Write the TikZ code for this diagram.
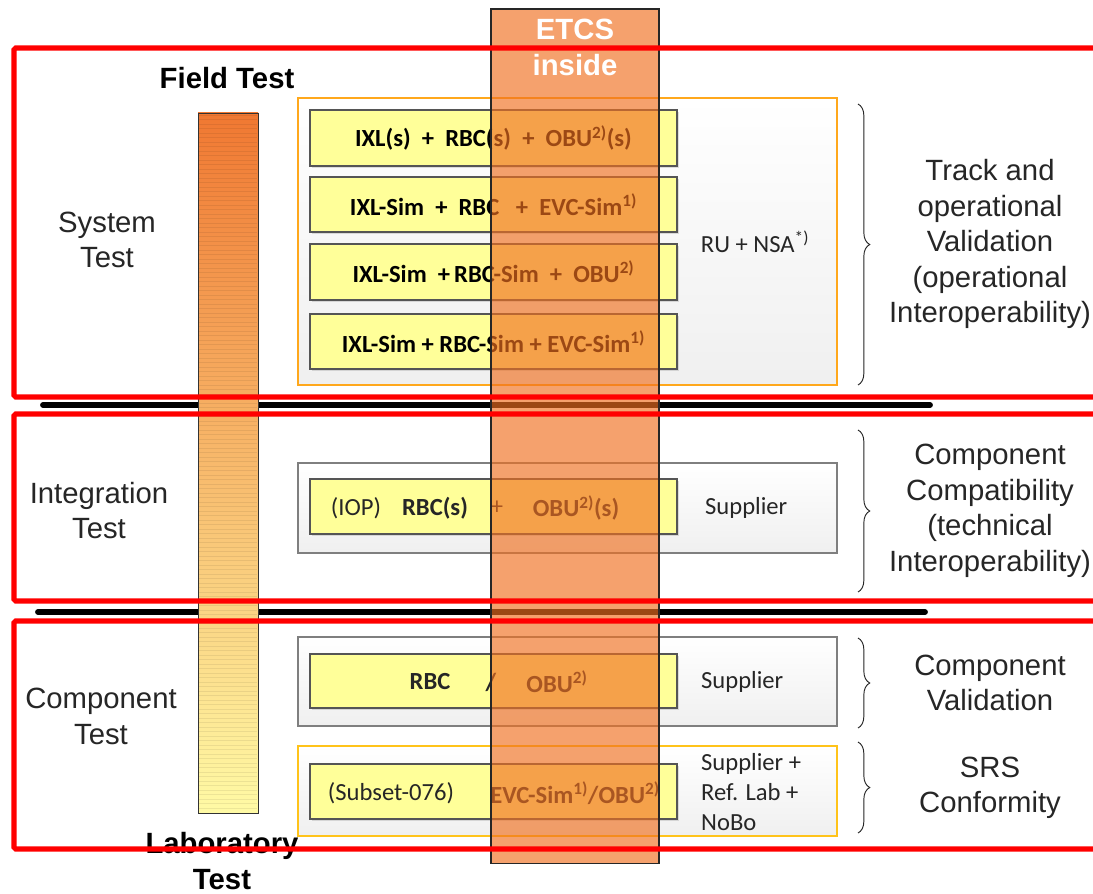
\documentclass[tikz,border=0pt]{standalone}
\usepackage{fontspec}
\setmainfont{Liberation Sans}
\newfontfamily\cellfont{Carlito}
\usepackage{tikz}
\usetikzlibrary{decorations.pathreplacing,shadows}
\definecolor{railRed}{HTML}{FF0000}
\definecolor{ink}{HTML}{262626}
\definecolor{cellYellow}{HTML}{FFFF99}
\definecolor{cellEdge}{HTML}{555555}
\definecolor{frameGray}{HTML}{7F7F7F}
\definecolor{frameOrange}{HTML}{FFA81C}
\definecolor{frameGold}{HTML}{FFC31A}
\definecolor{etcsOrange}{HTML}{F07020}
\definecolor{barTop}{HTML}{F07832}
\definecolor{barMid}{HTML}{F9D690}
\definecolor{barLow}{HTML}{FFFAA5}

\begin{document}
\begin{tikzpicture}[x=0.03cm,y=-0.03cm,
  lbl/.style={font=\fontsize{25}{30.3}\selectfont,text=ink,align=center},
  head/.style={font=\fontsize{25}{30.3}\selectfont\bfseries,align=center},
  grp/.style={draw=frameGray,line width=1.2pt,top color=white,bottom color=gray!12,
    minimum width=16.17cm,minimum height=2.7cm,inner sep=0pt},
  cell/.style={draw=cellEdge,line width=1.1pt,fill=cellYellow,minimum width=11.01cm,
    minimum height=1.65cm,inner sep=0pt,
    drop shadow={shadow xshift=1.5pt,shadow yshift=-1.5pt,opacity=0.25},
    font=\cellfont\fontsize{21}{24}\selectfont\bfseries},
  txt/.style={font=\cellfont\fontsize{21}{24}\selectfont,text=ink},
  bold/.style={txt,font=\cellfont\fontsize{21}{24}\selectfont\bfseries},
  stripe/.style={black,opacity=0.07,line width=0.5pt},
  frame/.style={draw=railRed,line width=4.3pt,rounded corners=1.5pt},
  sep/.style={line width=5pt,line cap=round},
  brc/.style={decorate,decoration={brace,amplitude=10pt},draw=ink,line width=0.8pt}]
  \useasboundingbox[fill=white] (0,0) rectangle (1093,893);

  % group boxes
  \node[grp,draw=frameOrange,line width=1.7pt,minimum height=8.61cm] (grpSys) at (567.5,241.5) {};
  \node[grp] (grpIop) at (567.5,508) {};
  \node[grp,minimum height=2.67cm] (grpComp) at (567.5,681.5) {};
  \node[grp,draw=frameGold,line width=2pt] (grpSrs) at (567.5,791) {};

  % test set-ups
  \node[cell,minimum height=1.68cm] (sys1) at (493.5,138)
    {IXL(s)~~+~~RBC(s)~~+~~OBU\textsuperscript{2)}(s)};
  \node[cell] (sys2) at (493.5,204.5) {IXL-Sim~~+~~RBC~~~+~~EVC-Sim\textsuperscript{1)}};
  \node[cell,minimum height=1.68cm] (sys3) at (493.5,272) {IXL-Sim~~+\,RBC-Sim~~+~~OBU\textsuperscript{2)}};
  \node[cell] (sys4) at (493.5,341.5) {IXL-Sim + RBC-Sim + EVC-Sim\textsuperscript{1)}};
  \node[cell] (iop) at (493.5,506.5) {};
  \node[cell,minimum height=1.62cm] (comp) at (493.5,681) {};
  \node[cell] (srs) at (493.5,791.5) {};

  \node[txt] (iopTag) at (356,508) {(IOP)};
  \node[bold] (iopRbc) at (435,508) {RBC(s)};
  \node[txt] (iopPlus) at (497,508) {+};
  \node[bold] (iopObu) at (576,508) {OBU\textsuperscript{2)}(s)};
  \node[bold] (compRbc) at (430,682) {RBC};
  \node[bold] (compSlash) at (491,682) {/};
  \node[bold] (compObu) at (557,682) {OBU\textsuperscript{2)}};
  \node[txt] (srsTag) at (391,793) {(Subset-076)};
  \node[bold] (srsSim) at (575,793) {EVC-Sim\textsuperscript{1)}/OBU\textsuperscript{2)}};

  % who tests
  \node[txt] (whoSys) at (755,242) {RU + NSA\textsuperscript{*)}};
  \node[txt,anchor=west] (whoIop) at (701,508) {Supplier};
  \node[txt,anchor=west] (whoComp) at (697,682) {Supplier};
  \node[txt,anchor=west,align=left,font=\cellfont\fontsize{21}{25.6}\selectfont] (whoSrs) at (697,792)
    {Supplier +\\Ref. Lab +\\NoBo};

  % level separators
  \draw[sep] (43,405) -- (930,405);
  \draw[sep] (38,612) -- (925,612);

  % field to laboratory bar
  \node[draw=black!80,line width=0.8pt,top color=barTop,middle color=barMid,bottom color=barLow,
    minimum width=1.8cm,minimum height=21cm,inner sep=0pt] (ladder) at (228,463) {};
  \foreach \k in {0,...,154}
    \draw[stripe] (199,{115+4.5*\k}) -- (257,{115+4.5*\k});
  \node[head] (field) at (227,78) {Field Test};
  \node[head,inner sep=0pt] (lab) at (222,861) {Laboratory\\Test};

  % test levels
  \node[lbl] (lvlSys) at (107,240) {System\\Test};
  \node[lbl] (lvlIop) at (99,510.5) {Integration\\Test};
  \node[lbl] (lvlComp) at (101,716.5) {Component\\Test};

  % aims
  \draw[brc] (858,104) -- (858,385);
  \draw[brc] (858,430) -- (858,592);
  \draw[brc] (858,638) -- (858,728);
  \draw[brc] (858,742) -- (858,833);
  \node[lbl] (aimSys) at (990,244)
    {Track and\\operational\\Validation\\(operational\\Interoperability)};
  \node[lbl] (aimIop) at (990,511) {Component\\Compatibility\\(technical\\Interoperability)};
  \node[lbl] (aimComp) at (990,683) {Component\\Validation};
  \node[lbl] (aimSrs) at (990,788) {SRS\\Conformity};

  % ETCS column
  \node[draw=black!85,line width=0.9pt,fill=etcsOrange,fill opacity=0.65,
    minimum width=5.04cm,minimum height=25.62cm,inner sep=0pt] (etcs) at (575,436) {};
  \node[head,text=white] (etcsTitle) at (575,47.5) {ETCS\\inside};

  % level frames
  \draw[frame] (1100,48) -| (14,397) -- (1100,397);
  \draw[frame] (1100,414) -| (14,601) -- (1100,601);
  \draw[frame] (1100,621) -| (14,849) -- (1100,849);
\end{tikzpicture}
\end{document}
